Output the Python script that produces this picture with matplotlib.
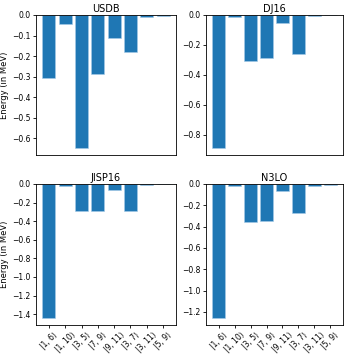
import matplotlib
matplotlib.use("Agg")
import matplotlib.pyplot as plt
import numpy as np

labels = ["|1, 6⟩", "|1, 10⟩", "|3, 5⟩", "|7, 9⟩", "|9, 11⟩", "|3, 7⟩", "|3, 11⟩", "|5, 9⟩"]
titles = ["USDB", "DJ16", "JISP16", "N3LO"]
usdb = [-0.305, -0.045, -0.648, -0.285, -0.11, -0.182, -0.012, -0.005]
dj16 = [-0.89, -0.015, -0.305, -0.29, -0.055, -0.26, -0.01, -0.003]
jisp16 = [-1.445, -0.02, -0.295, -0.295, -0.06, -0.295, -0.015, -0.005]
n3lo = [-1.26, -0.02, -0.355, -0.35, -0.07, -0.275, -0.02, -0.005]
series = [usdb, dj16, jisp16, n3lo]

plt.rcParams['font.family'] = ['DejaVu Sans']
plt.rcParams['font.size'] = 6

fig = plt.figure(figsize=(3.52, 3.56), dpi=100)
W, H = 352, 356
boxes = [(36, 15, 176, 155), (206, 15, 343, 155), (36, 184, 176, 325), (206, 184, 343, 325)]
x = np.arange(len(labels))
for i, (vals, title, b) in enumerate(zip(series, titles, boxes)):
    l, t, r, bt = b
    ax = fig.add_axes([l / W, 1 - bt / H, (r - l) / W, (bt - t) / H])
    ax.bar(x, vals, color='#1f77b4', edgecolor='#a6cbe8', linewidth=0.4)
    ax.set_title(title, fontsize=7, pad=2)
    ax.tick_params(length=2.5, width=0.6, pad=1.5, labelsize=5.5)
    for s in ax.spines.values():
        s.set_linewidth(0.6)
    if i < 2:
        ax.set_xticks([])
    else:
        ax.set_xticks(x)
        ax.set_xticklabels(labels, rotation=45, fontsize=5.5)
    if i % 2 == 0:
        ax.set_ylabel("Energy (in MeV)", fontsize=6, labelpad=2)

fig.savefig("out.png", dpi=100)
